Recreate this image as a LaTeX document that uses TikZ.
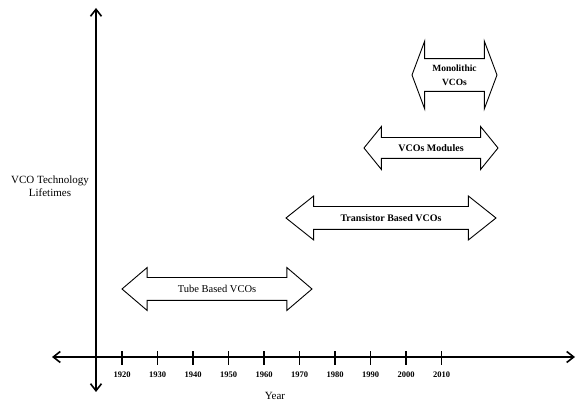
\documentclass[tikz,border=0pt]{standalone}
\usepackage{fontspec}
\setmainfont{Liberation Serif}
\usetikzlibrary{arrows.meta,shapes.arrows}

\begin{document}
\begin{tikzpicture}
  [x=1pt,y=1pt,every node/.style={inner sep=0pt},
   axis/.style={line width=1.6pt,{Straight Barb[length=7pt,width=11pt]}-{Straight Barb[length=7pt,width=11pt]}},
   tick/.style={line width=1.2pt},
   yearlabel/.style={font=\bfseries\fontsize{8.5}{10}\selectfont},
   span/.style={double arrow,draw,line width=0.9pt,inner xsep=2pt,
     font=\bfseries\fontsize{10}{12}\selectfont,text height=7pt,text depth=0pt}]

  \useasboundingbox (0,0) rectangle (579,403);

  \coordinate (top) at (96,395);
  \coordinate (bottom) at (96,11);
  \coordinate (left) at (52,46);
  \coordinate (right) at (575,46);

  \draw[axis] (bottom) -- (top);
  \draw[axis] (left) -- (right);

  \foreach \yr in {1920,1930,...,2010} {
    \coordinate (t\yr) at ({122+(\yr-1920)*3.55},46);
    \draw[tick] ([yshift=-8pt]t\yr) -- ([yshift=6pt]t\yr);
    \node[yearlabel] (y\yr) at ([yshift=-18pt]t\yr) {\yr};
  }

  \node[font=\fontsize{11}{12}\selectfont] (year) at (275,7) {Year};
  \node[font=\fontsize{11}{12.5}\selectfont,align=center] (life) at (50,217)
    {VCO Technology\\Lifetimes};

  \node[span,font=\fontsize{10.5}{12}\selectfont,minimum height=190pt,minimum width=42pt,
    double arrow head extend=10pt,double arrow tip angle=81,inner ysep=7.5pt]
    (tube) at (217,114) {Tube Based VCOs};
  \node[span,minimum height=210pt,minimum width=43pt,
    double arrow head extend=10.5pt,double arrow tip angle=77,inner ysep=7.5pt]
    (trans) at (391,185) {Transistor Based VCOs};
  \node[span,minimum height=134pt,minimum width=42pt,
    double arrow head extend=11pt,double arrow tip angle=102,inner ysep=6.5pt]
    (modules) at (431,255) {VCOs Modules};
  \node[span,font=\bfseries\fontsize{9.5}{14}\selectfont,text height=,text depth=,
    align=center,minimum height=85pt,minimum width=67pt,
    double arrow head extend=17.5pt,double arrow tip angle=139,inner ysep=5.5pt]
    (mono) at (454.5,328) {Monolithic\\VCOs};

\end{tikzpicture}
\end{document}
